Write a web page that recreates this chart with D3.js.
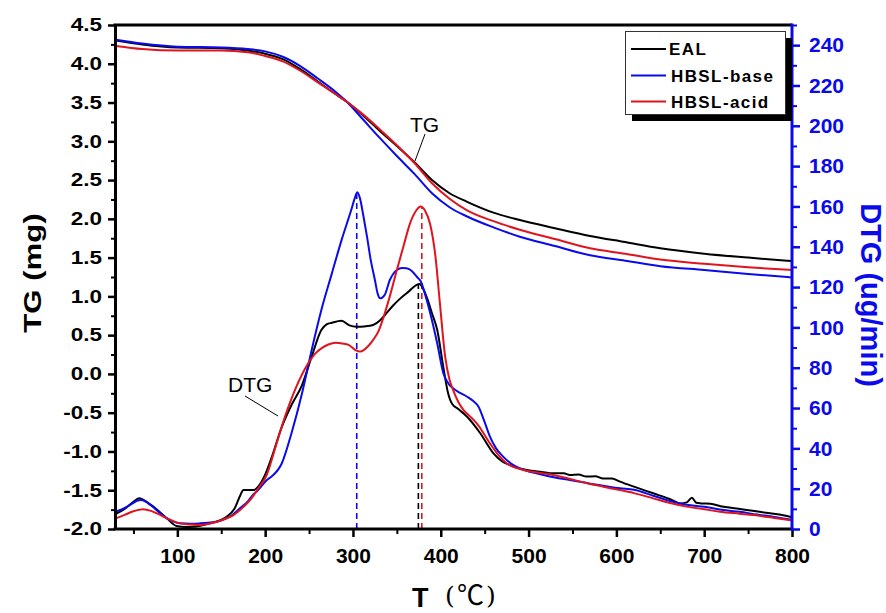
<!DOCTYPE html>
<html><head><meta charset="utf-8">
<script src="https://cdn.jsdelivr.net/npm/d3@7"></script>
<style>
html,body{margin:0;padding:0;background:#fff;}
svg{display:block;}
</style></head>
<body>
<svg id="chart" width="886" height="613"></svg>
<script>
// ---------- data ----------
const seriesNames = ["EAL", "HBSL-base", "HBSL-acid"];
const seriesColors = ["#000000", "#0a0aeb", "#e0141e"];

const xTicks = [100, 200, 300, 400, 500, 600, 700, 800];
const xMinorTicks = [50, 150, 250, 350, 450, 550, 650, 750];
const tgTicks = [-2.0, -1.5, -1.0, -0.5, 0.0, 0.5, 1.0, 1.5, 2.0, 2.5, 3.0, 3.5, 4.0, 4.5];
const tgMinorTicks = [-1.75, -1.25, -0.75, -0.25, 0.25, 0.75, 1.25, 1.75, 2.25, 2.75, 3.25, 3.75, 4.25];
const dtgTicks = [0, 20, 40, 60, 80, 100, 120, 140, 160, 180, 200, 220, 240];
const dtgMinorTicks = [10, 30, 50, 70, 90, 110, 130, 150, 170, 190, 210, 230, 250];

// TG (mg) — temperature grid
const tgT =    [30, 60, 100, 150, 180, 200, 220, 240, 260, 280, 293, 310, 330, 350, 370, 390, 410, 430, 460, 490, 530, 570, 610, 650, 700, 750, 800];
const tgEAL =  [4.30, 4.25, 4.21, 4.20, 4.17, 4.13, 4.06, 3.93, 3.77, 3.61, 3.51, 3.35, 3.14, 2.94, 2.73, 2.50, 2.33, 2.22, 2.08, 1.985, 1.88, 1.78, 1.70, 1.62, 1.55, 1.50, 1.455];
const tgBase = [4.31, 4.26, 4.22, 4.21, 4.19, 4.16, 4.09, 3.97, 3.81, 3.64, 3.51, 3.30, 3.05, 2.81, 2.58, 2.33, 2.15, 2.03, 1.89, 1.77, 1.65, 1.53, 1.46, 1.39, 1.34, 1.29, 1.245];
const tgAcid = [4.23, 4.19, 4.17, 4.17, 4.15, 4.10, 4.03, 3.91, 3.76, 3.61, 3.51, 3.36, 3.16, 2.95, 2.72, 2.46, 2.26, 2.11, 1.97, 1.86, 1.74, 1.62, 1.55, 1.475, 1.42, 1.375, 1.34];

// DTG (ug/min)
const dtgEAL_T = [30, 40, 50, 57, 65, 73, 88, 99, 110, 118, 130, 137, 156, 165, 172, 175, 187, 192, 200, 207, 219, 230, 242, 253, 264, 270, 276, 287, 296, 304, 313, 323, 331, 338, 346, 354, 364, 372, 376, 380, 384, 390, 396, 403, 408, 413, 420, 430, 445, 460, 470, 479, 490, 498, 515, 528, 540, 547, 557, 566, 576, 585, 595, 604, 620, 642, 660, 673, 680, 686, 691, 696, 707, 720, 737, 755, 775, 790, 800];
const dtgEAL =   [7.5, 10, 13.5, 15.2, 13.5, 11, 5.3, 1.5, 1.0, 1.1, 2.0, 2.8, 6.1, 10, 17, 19.3, 19.3, 21, 27, 35, 50.7, 61.5, 71.4, 85.5, 98.7, 101.5, 102.3, 103.3, 101, 100.3, 100.5, 101.2, 103.5, 107, 111, 114.4, 118, 121, 121.5, 119, 115, 107, 98.7, 80, 68, 62, 59.5, 55.7, 47.5, 37.5, 33.5, 31.7, 30, 29.3, 28.3, 27.6, 27.6, 26.8, 27.0, 26, 26.2, 25, 25.0, 23.5, 21, 17.7, 15, 12.7, 13.2, 15.5, 13, 12.7, 12.5, 11.2, 10.2, 9, 7.8, 6.8, 5.8];

const dtgBase_T = [30, 40, 50, 54, 59, 66, 72, 80, 88, 95, 103, 115, 126, 135, 145, 152, 160, 171, 180, 186, 192, 202, 207, 219, 230, 242, 253, 264, 276, 287, 298, 302, 305, 308, 312, 316, 320, 325, 328, 331, 336, 342, 350, 356, 361, 367, 373, 377, 384, 388, 396, 403, 409, 414, 422, 430, 437, 443, 450, 456, 463, 471, 480, 490, 510, 530, 547, 570, 604, 620, 642, 660, 680, 700, 720, 740, 760, 780, 800];
const dtgBase =   [8.6, 10.5, 13, 14, 14.4, 13, 11, 8, 5.3, 3.8, 2.8, 2.6, 2.8, 3.1, 3.6, 4.5, 6.1, 10.2, 13.5, 16.9, 19.3, 24.3, 25.9, 32.6, 47.5, 67.3, 88.8, 108.6, 126.8, 143.3, 158.2, 164, 167, 164, 155, 145, 134, 123.5, 117, 114.4, 116, 123.5, 128.5, 129.5, 129.3, 128, 125, 123, 113.6, 107, 92, 77.2, 72, 69.8, 67.5, 65.6, 63.5, 60.7, 53, 45.8, 40, 35.9, 32.5, 30.1, 27.5, 25.5, 24.3, 22.5, 20.2, 19.5, 16.5, 14, 12, 11, 9.5, 8.5, 7.2, 6, 4.6];

const dtgAcid_T = [30, 40, 50, 61, 70, 78, 88, 103, 115, 126, 135, 145, 155, 164, 173, 183, 192, 202, 210, 219, 234, 249, 257, 264, 272, 280, 288, 295, 302, 308, 313, 318, 323, 329, 335, 343, 350, 358, 365, 372, 377, 382, 388, 394, 399, 405, 410, 414, 420, 426, 433, 441, 456, 465, 475, 494, 510, 528, 547, 567, 585, 604, 620, 642, 660, 680, 700, 718, 740, 756, 780, 800];
const dtgAcid =   [5.3, 7, 8.8, 9.8, 9, 7.5, 5.3, 2.8, 2.2, 2.0, 2.5, 3.6, 5.2, 6.9, 10, 14.4, 20, 27, 38, 51, 69, 82.2, 87, 89.6, 91.5, 92.4, 92, 91.3, 89, 88, 89, 91, 93.8, 98, 105.3, 117, 128.5, 141, 151.6, 158, 160, 158, 151, 135, 112, 85.5, 74, 69, 63, 59, 56, 52.4, 42.5, 37, 32.6, 29.3, 28, 26.8, 24.8, 22.7, 21, 19.3, 17.8, 15.2, 13, 11.1, 9.8, 8.6, 7.6, 6.9, 5.5, 4.3];

// peak markers (T, DTG value)
const peakT = [374.5, 304.3, 378.4];
const peakV = [121.5, 167, 160];

// ---------- chart ----------
const svg = d3.select("#chart");
const L = 115, R = 792, T0 = 25, B = 529;
const x = d3.scaleLinear().domain([29, 800]).range([L, R]);
const yL = d3.scaleLinear().domain([-2, 4.5]).range([B, T0]);
const yR = d3.scaleLinear().domain([0, 250]).range([B, T0]);
const blue = "#0a0aeb";
const FONT = "Liberation Sans, Arial, sans-serif";

const tgSeries = [tgEAL, tgBase, tgAcid];
const dtgSeries = [[dtgEAL_T, dtgEAL], [dtgBase_T, dtgBase], [dtgAcid_T, dtgAcid]];

// dashed peak lines
peakT.forEach((t, i) => {
  svg.append("line")
    .attr("x1", x(t)).attr("x2", x(t))
    .attr("y1", yR(0)).attr("y2", yR(peakV[i]))
    .attr("stroke", seriesColors[i]).attr("stroke-width", 1.6)
    .attr("stroke-dasharray", "6,4");
});

const line = d3.line().curve(d3.curveMonotoneX);
tgSeries.forEach((s, i) => {
  svg.append("path")
    .attr("d", line(tgT.map((t, j) => [x(t), yL(s[j])])))
    .attr("fill", "none").attr("stroke", seriesColors[i]).attr("stroke-width", 2);
});
dtgSeries.forEach((s, i) => {
  svg.append("path")
    .attr("d", line(s[0].map((t, j) => [x(t), yR(s[1][j])])))
    .attr("fill", "none").attr("stroke", seriesColors[i]).attr("stroke-width", 2);
});

// top border
svg.append("line").attr("x1", L - 1.5).attr("x2", R).attr("y1", T0).attr("y2", T0)
  .attr("stroke", "#000").attr("stroke-width", 3);

// bottom axis
const gx = svg.append("g").attr("transform", `translate(0,${B})`)
  .call(d3.axisBottom(x).tickValues(xTicks).tickSize(8).tickSizeOuter(0).tickPadding(11).tickFormat(d => String(d)));
svg.append("g").attr("transform", `translate(0,${B})`)
  .call(d3.axisBottom(x).tickValues(xMinorTicks).tickSize(5).tickSizeOuter(0).tickFormat(""))
  .call(g => g.select(".domain").remove())
  .selectAll(".tick line").attr("stroke-width", 2);
gx.select(".domain").attr("stroke-width", 3).attr("d", `M${L-1.5},0H${R+1.5}`);
gx.selectAll(".tick line").attr("stroke-width", 2.5);
gx.selectAll("text").attr("font-family", FONT)
  .attr("font-size", 21).attr("font-weight", "bold").attr("fill", "#000");

// left axis
const gl = svg.append("g").attr("transform", `translate(${L},0)`)
  .call(d3.axisLeft(yL).tickValues(tgTicks).tickSize(7).tickSizeOuter(0).tickPadding(6).tickFormat(d => d.toFixed(1)));
svg.append("g").attr("transform", `translate(${L},0)`)
  .call(d3.axisLeft(yL).tickValues(tgMinorTicks).tickSize(4).tickSizeOuter(0).tickFormat(""))
  .call(g => g.select(".domain").remove())
  .selectAll(".tick line").attr("stroke-width", 2);
gl.select(".domain").attr("stroke-width", 3);
gl.selectAll(".tick line").attr("stroke-width", 2.5);
gl.selectAll("text")
  .attr("font-family", FONT)
  .attr("font-size", 18).attr("font-weight", "bold").attr("fill", "#000")
  .attr("x", 0).attr("transform", "translate(-13,0) scale(1.25,1)");

// right axis
const gr = svg.append("g").attr("transform", `translate(${R},0)`)
  .call(d3.axisRight(yR).tickValues(dtgTicks).tickSize(8).tickSizeOuter(0).tickPadding(9).tickFormat(d => String(d)));
svg.append("g").attr("transform", `translate(${R},0)`)
  .call(d3.axisRight(yR).tickValues(dtgMinorTicks).tickSize(5).tickSizeOuter(0).tickFormat(""))
  .call(g => g.select(".domain").remove())
  .selectAll(".tick line").attr("stroke", blue).attr("stroke-width", 2);
gr.select(".domain").attr("stroke", blue).attr("stroke-width", 3).attr("d", `M0,${T0-1.5}V${B+1.5}`);
gr.selectAll(".tick line").attr("stroke", blue).attr("stroke-width", 2.5);
gr.selectAll("text").attr("font-family", FONT)
  .attr("font-size", 21).attr("font-weight", "bold").attr("fill", blue);

// axis titles
svg.append("text").attr("transform", "translate(41,273) rotate(-90) scale(1.3,1)")
  .attr("text-anchor", "middle").attr("font-family", FONT)
  .attr("font-size", 24).attr("font-weight", "bold").attr("fill", "#000").text("TG (mg)");
svg.append("text").attr("transform", "translate(861,295) rotate(90)")
  .attr("text-anchor", "middle").attr("font-family", FONT)
  .attr("font-size", 29).attr("font-weight", "bold").attr("fill", blue).text("DTG (ug/min)");
const xt = svg.append("text").attr("fill", "#000");
xt.append("tspan").attr("x", 412).attr("y", 607).attr("font-family", FONT)
  .attr("font-size", 27).attr("font-weight", "bold").text("T");
xt.append("tspan").attr("x", 445).attr("y", 604).attr("font-family", "DejaVu Serif, serif")
  .attr("font-size", 25).text("(");
xt.append("tspan").attr("x", 457).attr("y", 605).attr("font-family", "Noto Sans CJK SC, sans-serif")
  .attr("font-size", 27).text("℃");
xt.append("tspan").attr("x", 486).attr("y", 604).attr("font-family", "DejaVu Serif, serif")
  .attr("font-size", 25).text(")");

// annotations
svg.append("text").attr("x", 410).attr("y", 131.5).attr("font-family", FONT)
  .attr("font-size", 21).attr("fill", "#000").text("TG");
svg.append("line").attr("x1", 425).attr("y1", 134).attr("x2", 415).attr("y2", 161)
  .attr("stroke", "#000").attr("stroke-width", 1);
svg.append("text").attr("x", 228).attr("y", 392).attr("font-family", FONT)
  .attr("font-size", 21).attr("fill", "#000").text("DTG");
svg.append("line").attr("x1", 245).attr("y1", 396).attr("x2", 278).attr("y2", 416)
  .attr("stroke", "#000").attr("stroke-width", 1);

// legend
const lg = svg.append("g");
lg.append("rect").attr("x", 632).attr("y", 38).attr("width", 160).attr("height", 83).attr("fill", "#000");
lg.append("rect").attr("x", 625.5).attr("y", 31.5).attr("width", 160).attr("height", 83)
  .attr("fill", "#fff").attr("stroke", "#333").attr("stroke-width", 1);
const rowY = [49, 75.5, 101.5];
seriesNames.forEach((n, i) => {
  lg.append("line").attr("x1", 631).attr("x2", 666).attr("y1", rowY[i]).attr("y2", rowY[i])
    .attr("stroke", seriesColors[i]).attr("stroke-width", 2);
  lg.append("text").attr("x", i === 0 ? 669 : 671).attr("y", rowY[i] + 6)
    .attr("font-family", FONT).attr("font-size", 17)
    .attr("font-weight", "bold").attr("letter-spacing", 1.4).attr("fill", "#000").text(n);
});
</script>
</body></html>
